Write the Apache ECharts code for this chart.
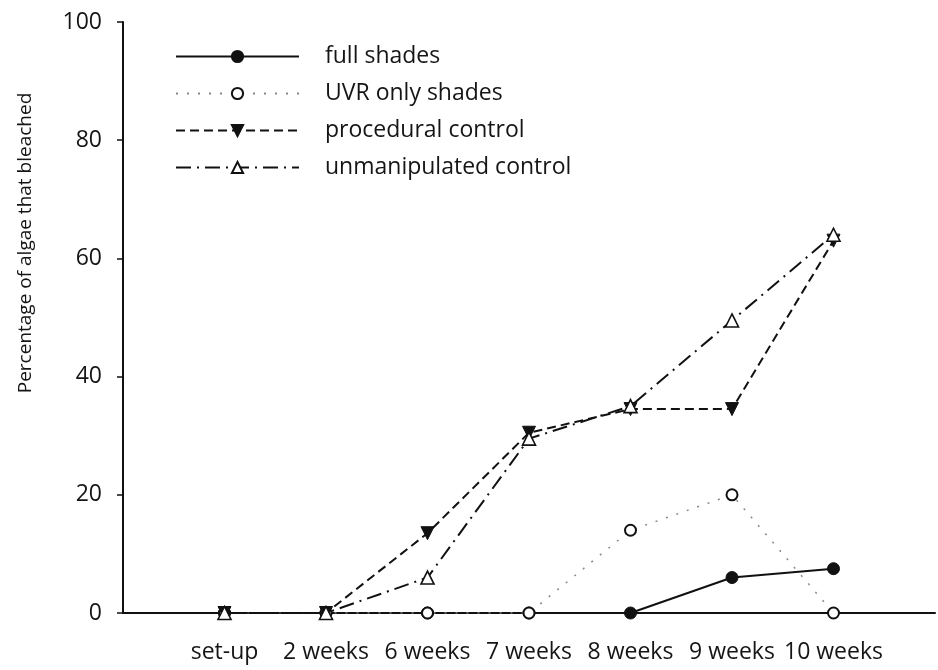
<!DOCTYPE html>
<html>
<head>
<meta charset="utf-8">
<script src="https://cdn.jsdelivr.net/npm/echarts@6/dist/echarts.min.js"></script>
<style>
  html, body { margin: 0; padding: 0; background: #fff; }
  #chart { width: 938px; height: 670px; }
</style>
</head>
<body>
<div id="chart"></div>
<script>
// Sampling times along the horizontal axis
const categories = ['set-up', '2 weeks', '6 weeks', '7 weeks', '8 weeks', '9 weeks', '10 weeks'];

// Percentage of algae that bleached, per treatment
const fullShades = [0, 0, 0, 0, 0, 6, 7.5];
const uvrOnlyShades = [0, 0, 0, 0, 14, 20, 0];
const proceduralControl = [0, 0, 13.5, 30.5, 34.5, 34.5, 63];
const unmanipulatedControl = [0, 0, 6, 29.5, 35, 49.5, 64];

const yTicks = [0, 20, 40, 60, 80, 100];
const yTitle = 'Percentage of algae that bleached';

const FONT = '"Open Sans", "DejaVu Sans", sans-serif';
const TEXT = '#151515';
const INK = '#111';

function pairs(values) {
  return values.map((v, i) => [i, v]);
}

const chart = echarts.init(document.getElementById('chart'), null, { renderer: 'canvas' });

chart.setOption({
  animation: false,
  backgroundColor: '#fff',
  textStyle: { fontFamily: FONT, color: TEXT },
  grid: { left: 123, top: 22, width: 820, height: 591, containLabel: false },
  legend: {
    left: 170,
    top: 40,
    orient: 'vertical',
    itemWidth: 123,
    itemHeight: 14,
    itemGap: 14,
    textStyle: { fontFamily: FONT, fontSize: 23, color: TEXT, lineHeight: 23, padding: [0, 0, 0, 21] },
    data: ['full shades', 'UVR only shades', 'procedural control', 'unmanipulated control']
  },
  xAxis: {
    type: 'value',
    min: -1,
    max: 7,
    interval: 1,
    splitLine: { show: false },
    axisTick: { show: false },
    axisLine: { show: true, lineStyle: { color: INK, width: 2 } },
    axisLabel: {
      margin: 28,
      fontFamily: FONT,
      fontSize: 23,
      color: TEXT,
      formatter: v => (categories[v] !== undefined ? categories[v] : '')
    }
  },
  yAxis: {
    type: 'value',
    min: yTicks[0],
    max: yTicks[yTicks.length - 1],
    interval: yTicks[1] - yTicks[0],
    splitLine: { show: false },
    axisLine: { show: true, onZero: false, lineStyle: { color: INK, width: 2 } },
    axisTick: { show: true, inside: false, length: 6, lineStyle: { color: INK, width: 1.5 } },
    axisLabel: { margin: 21, fontFamily: FONT, fontSize: 23, color: TEXT }
  },
  graphic: [{
    type: 'text',
    x: 26,
    y: 243,
    rotation: Math.PI / 2,
    style: {
      text: yTitle,
      font: '19px ' + FONT,
      fill: TEXT,
      textAlign: 'center',
      textVerticalAlign: 'middle'
    }
  }],
  series: [
    {
      name: 'full shades',
      type: 'line',
      data: pairs(fullShades),
      symbol: 'circle',
      symbolSize: 12,
      lineStyle: { color: INK, width: 2, type: 'solid' },
      itemStyle: { color: INK, borderColor: INK, borderWidth: 1 },
      z: 2
    },
    {
      name: 'UVR only shades',
      type: 'line',
      data: pairs(uvrOnlyShades),
      symbol: 'circle',
      symbolSize: 11,
      lineStyle: { color: '#888', width: 1.5, type: [2, 9] },
      itemStyle: { color: '#fff', borderColor: INK, borderWidth: 2 },
      z: 3
    },
    {
      name: 'procedural control',
      type: 'line',
      data: pairs(proceduralControl),
      symbol: 'triangle',
      symbolRotate: 180,
      symbolSize: 13,
      lineStyle: { color: INK, width: 2, type: [9, 5] },
      itemStyle: { color: INK, borderColor: INK, borderWidth: 1 },
      z: 4
    },
    {
      name: 'unmanipulated control',
      type: 'line',
      data: pairs(unmanipulatedControl),
      symbol: 'triangle',
      symbolSize: 13,
      lineStyle: { color: INK, width: 2, type: [15, 6, 2, 6] },
      itemStyle: { color: '#fff', borderColor: INK, borderWidth: 1.6 },
      z: 5
    }
  ]
});
</script>
</body>
</html>
